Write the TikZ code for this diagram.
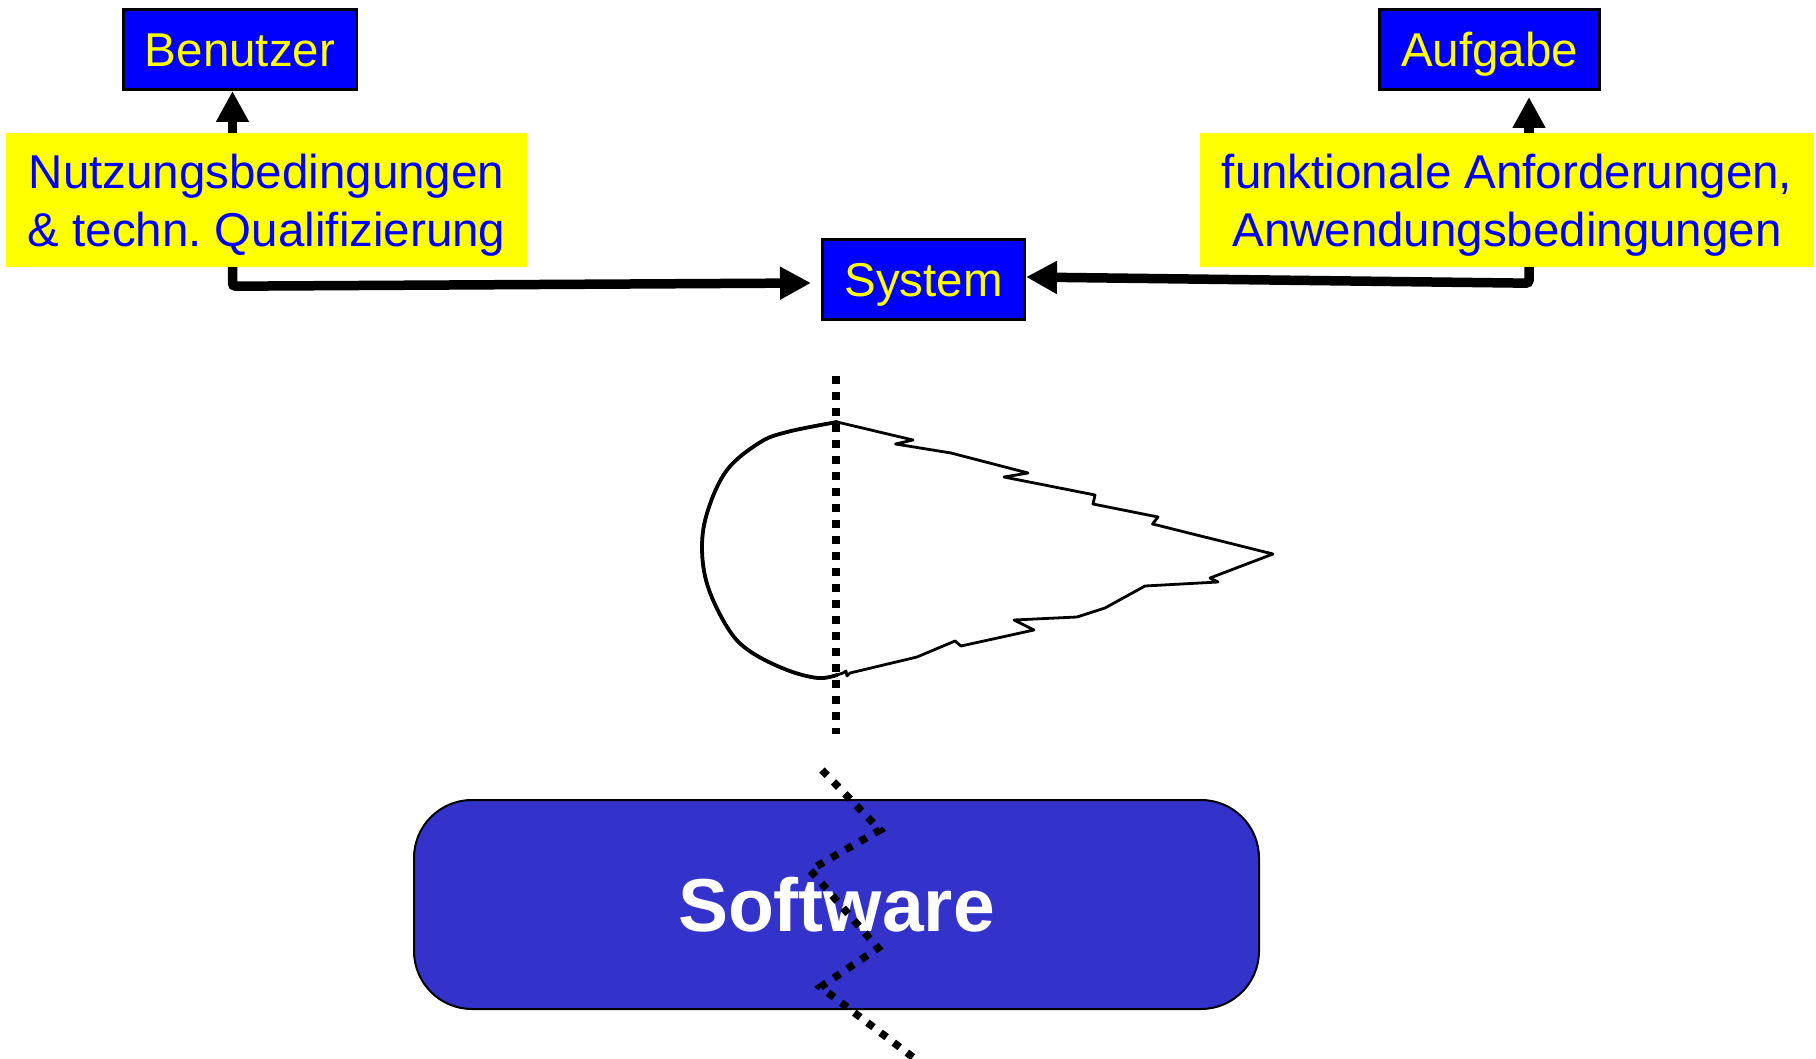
\documentclass[tikz,border=0pt]{standalone}
\usepackage{fontspec}
\setmainfont{Liberation Sans}
\usetikzlibrary{arrows.meta}
\definecolor{boxblue}{RGB}{0,0,255}
\definecolor{hiyellow}{RGB}{255,255,0}
\definecolor{softblue}{RGB}{51,51,204}

\begin{document}
\begin{tikzpicture}[x=1pt,y=-1pt,
  actor/.style={draw=black, line width=3pt, fill=boxblue, text=hiyellow,
    font=\fontsize{47.5}{57}\selectfont, inner sep=0pt, minimum height=80pt,
    text height=34pt, text depth=0pt},
  note/.style={fill=hiyellow, text=boxblue, font=\fontsize{47.5}{58}\selectfont,
    align=center, inner sep=0pt, minimum height=134pt, text depth=-3pt},
  flow/.style={line width=9.5pt, -{Triangle[length=31pt,width=31pt]}, rounded corners=3pt},
  dotline/.style={line width=8pt, dash pattern=on 8pt off 8pt},
  zigdots/.style={line width=7.5pt, dash pattern=on 7.5pt off 9pt},
]
\useasboundingbox (0,0) rectangle (1816,1059);

% actors and the system
\node[actor, minimum width=233pt] (benutzer) at (240,49.5) {Benutzer};
\node[actor, minimum width=220pt] (aufgabe) at (1489.5,49.5) {Aufgabe};
\node[actor, minimum width=202pt] (system) at (923.5,279.5) {System};

% requirement notes
\node[note, minimum width=521pt] (nutz) at (266.5,200)
  {Nutzungsbedingungen\\\& techn.\ Qualifizierung};
\node[note, minimum width=614pt] (funk) at (1507,200)
  {funktionale Anforderungen,\\Anwendungsbedingungen};

% connectors
\draw[flow] ([xshift=-7.5pt]benutzer.south |- nutz.north) -- ([xshift=-7.5pt]benutzer.south);
\draw[flow] ([xshift=-7.5pt]benutzer.south |- nutz.south) -- ++(0,19)
  -- ([xshift=-10pt,yshift=-3.5pt]system.west);
\draw[flow] ([xshift=39.5pt]aufgabe.south |- funk.north) -- ([xshift=39.5pt,yshift=-6pt]aufgabe.south);
\draw[flow] ([xshift=39.5pt]aufgabe.south |- funk.south) -- ++(0,16)
  -- ([yshift=2.5pt]system.east);

% cone-shaped outline: round back, jagged sides
\draw[line width=2.8pt, line join=round]
  plot[smooth, tension=0.6] coordinates {(837,422) (787,432) (759,443) (727,470)
    (708,510) (702,547) (708,587) (729,630) (751,652) (787,670) (818,678) (837,675)}
  -- (843,673) -- (846,671) -- (847,676) -- (850,673) -- (917,657) -- (955,641)
  -- (961,646) -- (1034,630) -- (1014,620) -- (1077,617) -- (1105,608) -- (1145,586)
  -- (1218,582) -- (1210,578) -- (1273,554) -- (1152.5,524) -- (1158,517)
  -- (1093,504) -- (1095,495) -- (1004,477) -- (1028,473) -- (951,453)
  -- (895.5,444) -- (913,440) -- cycle;
\draw[line width=3.8pt, line cap=round]
  plot[smooth, tension=0.6] coordinates {(837,422) (787,432) (759,443) (727,470)
    (708,510) (702,547) (708,587) (729,630) (751,652) (787,670) (818,678) (837,675)};

% vertical cut line
\draw[dotline] (836,376) -- (836,734);

% software block
\node[draw=black, line width=2pt, fill=softblue, rounded corners=58pt,
  minimum width=845pt, minimum height=209pt, inner sep=0pt, text=white,
  font=\fontsize{75}{90}\selectfont\bfseries] (software) at (836.5,904.5) {Software};

% zigzag cut through the software block
\draw[zigdots] (822,770) -- (880,830) -- (810,870) -- (878,948) -- (820.5,987) -- (914,1058);
\end{tikzpicture}
\end{document}
